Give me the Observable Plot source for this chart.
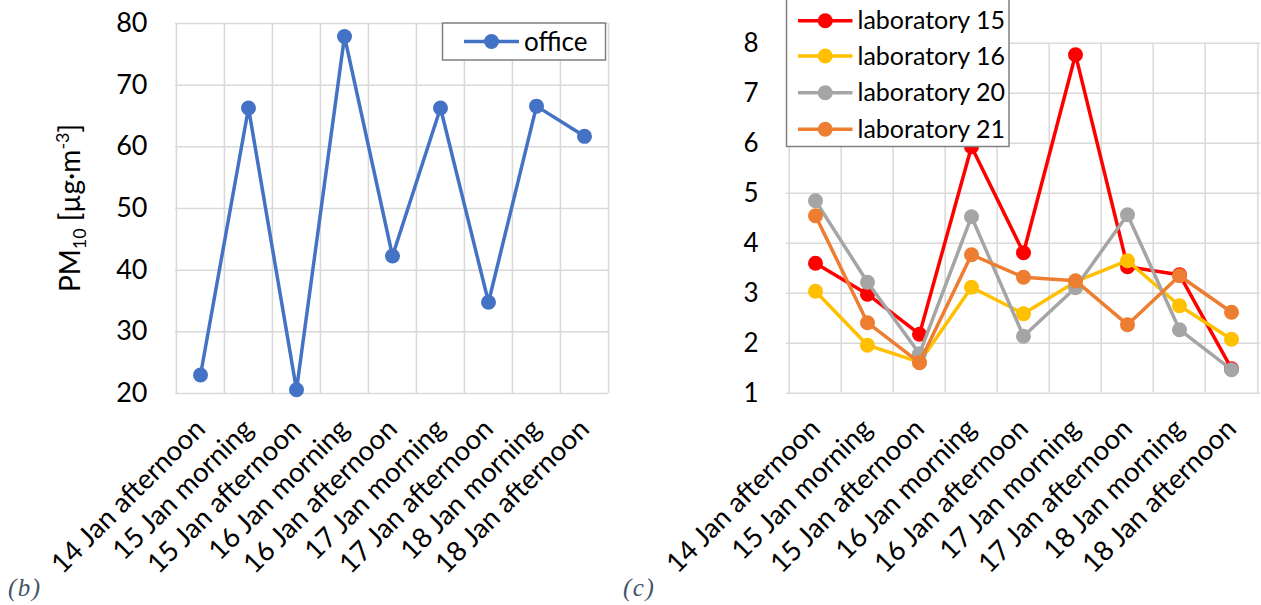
<!DOCTYPE html>
<html><head><meta charset="utf-8">
<script src="https://cdn.jsdelivr.net/npm/d3@7"></script>
<script src="https://cdn.jsdelivr.net/npm/@observablehq/plot@0.6"></script>
<style>
body{margin:0;background:#fff;}
#wrap{position:relative;width:1261px;height:605px;overflow:hidden;font-family:Lato,sans-serif;background:#fff;}
.panel{position:absolute;top:0;}
.tag{position:absolute;font-family:"Liberation Serif",serif;font-style:italic;font-size:25px;letter-spacing:1.5px;color:#44546a;line-height:1;}
</style></head><body>
<div id="wrap">
  <div id="b" class="panel" style="left:0px"></div>
  <div id="c" class="panel" style="left:620px"></div>
  <div class="tag" style="left:8px;top:575px">(b)</div>
  <div class="tag" style="left:623px;top:575px">(c)</div>
</div>
<script>
// ---- data ----
const periods = ["14 Jan afternoon","15 Jan morning","15 Jan afternoon","16 Jan morning","16 Jan afternoon","17 Jan morning","17 Jan afternoon","18 Jan morning","18 Jan afternoon"];
const office = [23.0, 66.3, 20.6, 77.9, 42.3, 66.3, 34.8, 66.6, 61.7];
const lab15 = [3.60, 2.98, 2.18, 5.93, 3.81, 7.77, 3.53, 3.37, 1.49];
const lab16 = [3.04, 1.96, 1.62, 3.12, 2.59, 3.23, 3.65, 2.75, 2.08];
const lab20 = [4.85, 3.22, 1.79, 4.53, 2.14, 3.11, 4.57, 2.27, 1.47];
const lab21 = [4.55, 2.41, 1.61, 3.77, 3.32, 3.25, 2.37, 3.35, 2.62];
const labNames = ["laboratory 15","laboratory 16","laboratory 20","laboratory 21"];
const labColors = ["#FF0000","#FFC000","#A5A5A5","#ED7D31"];
const officeName = "office";
const officeColor = "#4472C4";
const officeTicks = [20,30,40,50,60,70,80];
const labTicks = [1,2,3,4,5,6,7,8];

function rowsOf(name, values){ return periods.map((p,i)=>({period:p, value:values[i], series:name})); }

const GRID = "#d9d9d9";
function buildPanel({width, marginLeft, marginRight, marginTop, marginBottom, yTicks, seriesList, names, colors, tickFont}) {
  const step = (width - marginLeft - marginRight) / periods.length;
  const marks = [
    Plot.gridY(yTicks, {stroke: GRID, strokeOpacity: 1, strokeWidth: 1.5}),
    Plot.ruleX(periods, {x: d => d, dx: -step/2, stroke: GRID, strokeWidth: 1.5}),
    Plot.ruleX(periods.slice(-1), {x: d => d, dx: step/2, stroke: GRID, strokeWidth: 1.5}),
    Plot.axisY(yTicks, {tickSize: 0, tickPadding: 28, fontSize: tickFont, fill: "#000", label: null, tickFormat: d => String(d)}),
    Plot.text(periods, {x: d => d, frameAnchor: "bottom", rotate: -45, textAnchor: "end", lineAnchor: "middle", dx: 0, dy: 31, fontSize: 27.5, fill: "#000"})
  ];
  seriesList.forEach(rows => {
    marks.push(Plot.line(rows, {x: "period", y: "value", stroke: "series", strokeWidth: 3.5}));
    marks.push(Plot.dot(rows, {x: "period", y: "value", fill: "series", r: 7.5}));
  });
  return Plot.plot({
    width, height: 605, marginLeft, marginRight, marginTop, marginBottom,
    style: {fontFamily: "Lato, sans-serif", background: "transparent", color: "#000", overflow: "visible"},
    x: {type: "point", domain: periods, padding: 0.5, axis: null},
    y: {domain: [yTicks[0], yTicks[yTicks.length-1]], axis: null},
    color: {domain: names, range: colors},
    marks
  });
}

function addTitle(svg, x, y) {
  const t = d3.select(svg).append("text")
    .attr("transform", `translate(${x},${y}) rotate(-90)`)
    .attr("text-anchor", "middle")
    .attr("font-family", "Lato, sans-serif")
    .attr("font-size", 28)
    .attr("fill", "#000");
  t.append("tspan").text("PM");
  t.append("tspan").attr("font-size", 18).attr("dy", 6).text("10");
  t.append("tspan").attr("dy", -6).text(" [µg·m");
  t.append("tspan").attr("font-size", 18).attr("dy", -11).text("-3");
  t.append("tspan").attr("dy", 11).text("]");
}

function addLegend(svg, box, items, lineX1, lineX2, textX, rowYs, fontSize) {
  const g = d3.select(svg).append("g");
  g.append("rect").attr("x", box.x).attr("y", box.y).attr("width", box.w).attr("height", box.h)
    .attr("fill", "#fff").attr("stroke", "#808080").attr("stroke-width", 1.5);
  items.forEach((it, i) => {
    const y = rowYs[i];
    g.append("line").attr("x1", lineX1).attr("x2", lineX2).attr("y1", y).attr("y2", y)
      .attr("stroke", it.color).attr("stroke-width", 3.5);
    g.append("circle").attr("cx", (lineX1+lineX2)/2).attr("cy", y).attr("r", 7.5).attr("fill", it.color);
    g.append("text").attr("x", textX).attr("y", y).attr("dy", "0.35em").attr("text-anchor", "start")
      .attr("font-family", "Lato, sans-serif").attr("font-size", fontSize).attr("fill", "#000").text(it.name);
  });
}

// ---- left panel (b) ----
const left = buildPanel({
  width: 620, marginLeft: 175, marginRight: 12, marginTop: 23, marginBottom: 212,
  yTicks: officeTicks, seriesList: [rowsOf(officeName, office)], names: [officeName], colors: [officeColor], tickFont: 27
});
addTitle(left, 80, 208);
addLegend(left, {x: 442.5, y: 23, w: 163, h: 37}, [{name: officeName, color: officeColor}], 464, 519, 524, [41.5], 26);
document.getElementById("b").appendChild(left);

// ---- right panel (c) ----
const right = buildPanel({
  width: 641, marginLeft: 166, marginRight: 1, marginTop: 42.7, marginBottom: 212.3,
  yTicks: labTicks, seriesList: [rowsOf(labNames[0], lab15), rowsOf(labNames[1], lab16), rowsOf(labNames[2], lab20), rowsOf(labNames[3], lab21)],
  names: labNames, colors: labColors, tickFont: 26
});
addTitle(right, 708, 213);
addLegend(right, {x: 166.5, y: -1, w: 222.5, h: 147.5}, labNames.map((n,i)=>({name:n, color:labColors[i]})), 178, 232.5, 237.5, [20.7, 56, 92.7, 129.3], 25);
document.getElementById("c").appendChild(right);
</script>
</body></html>
